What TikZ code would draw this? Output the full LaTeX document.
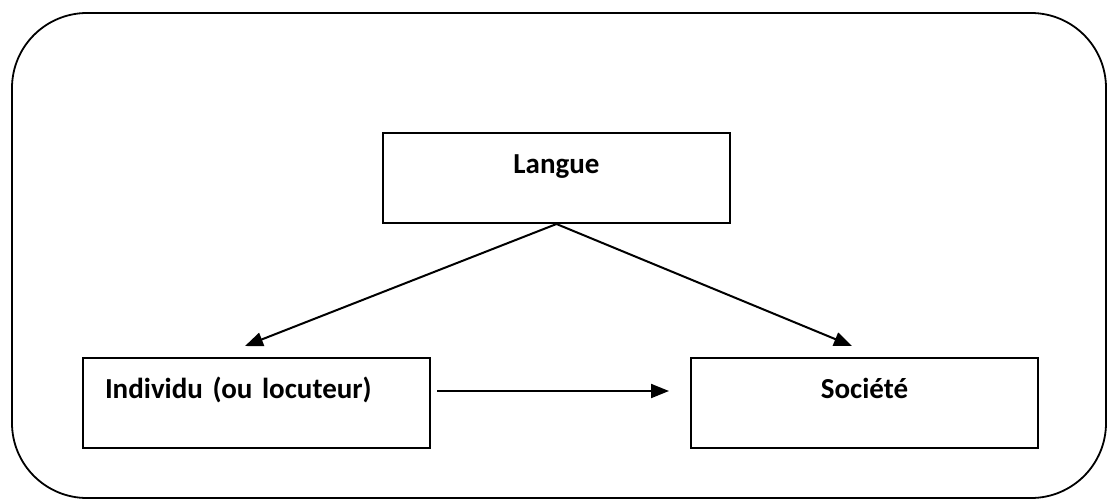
\documentclass[tikz,border=0pt]{standalone}
\usepackage{fontspec}
\setmainfont{Carlito}
\usepackage{tikz}
\usetikzlibrary{arrows.meta}
\usetikzlibrary{calc}

\begin{document}
\begin{tikzpicture}[ x=1pt, y=-1pt,
      frame/.style={ line width=1.8pt, rounded corners=75pt},
      box/.style={ draw, line width=2pt, inner xsep=0pt, inner ysep=0pt,
        text width=347pt, text height=40pt, text depth=50pt, align=center,
        font=\fontsize{29}{33}\selectfont\bfseries},
      link/.style={ line width=2pt, ->, >={Triangle[length=18pt,width=14pt]}}
      ]
      \useasboundingbox (0,0) rectangle (1108,499);
      % outer frame
      \draw[frame] (12,13) rectangle (1106,498);

      % boxes
      \node[box] (Langue) at (556.5,178) {Langue};
      \node[box, align=left, inner xsep=22pt, text width=303pt] (Individu) at (256.5,403) {Individu (ou locuteur)};
      \node[box] (Societe) at (864.5,403) {Société};

      % arrow ends
      \coordinate (TipI) at (245,346);
      \coordinate (TipS) at (852,346);
      \coordinate (FromI) at (437,391);
      \coordinate (ToS) at (669,391);

      \draw[link] (Langue.south) -- (TipI);
      \draw[link] (Langue.south) -- (TipS);
      \draw[link] (FromI) -- (ToS);
    \end{tikzpicture}
\end{document}
